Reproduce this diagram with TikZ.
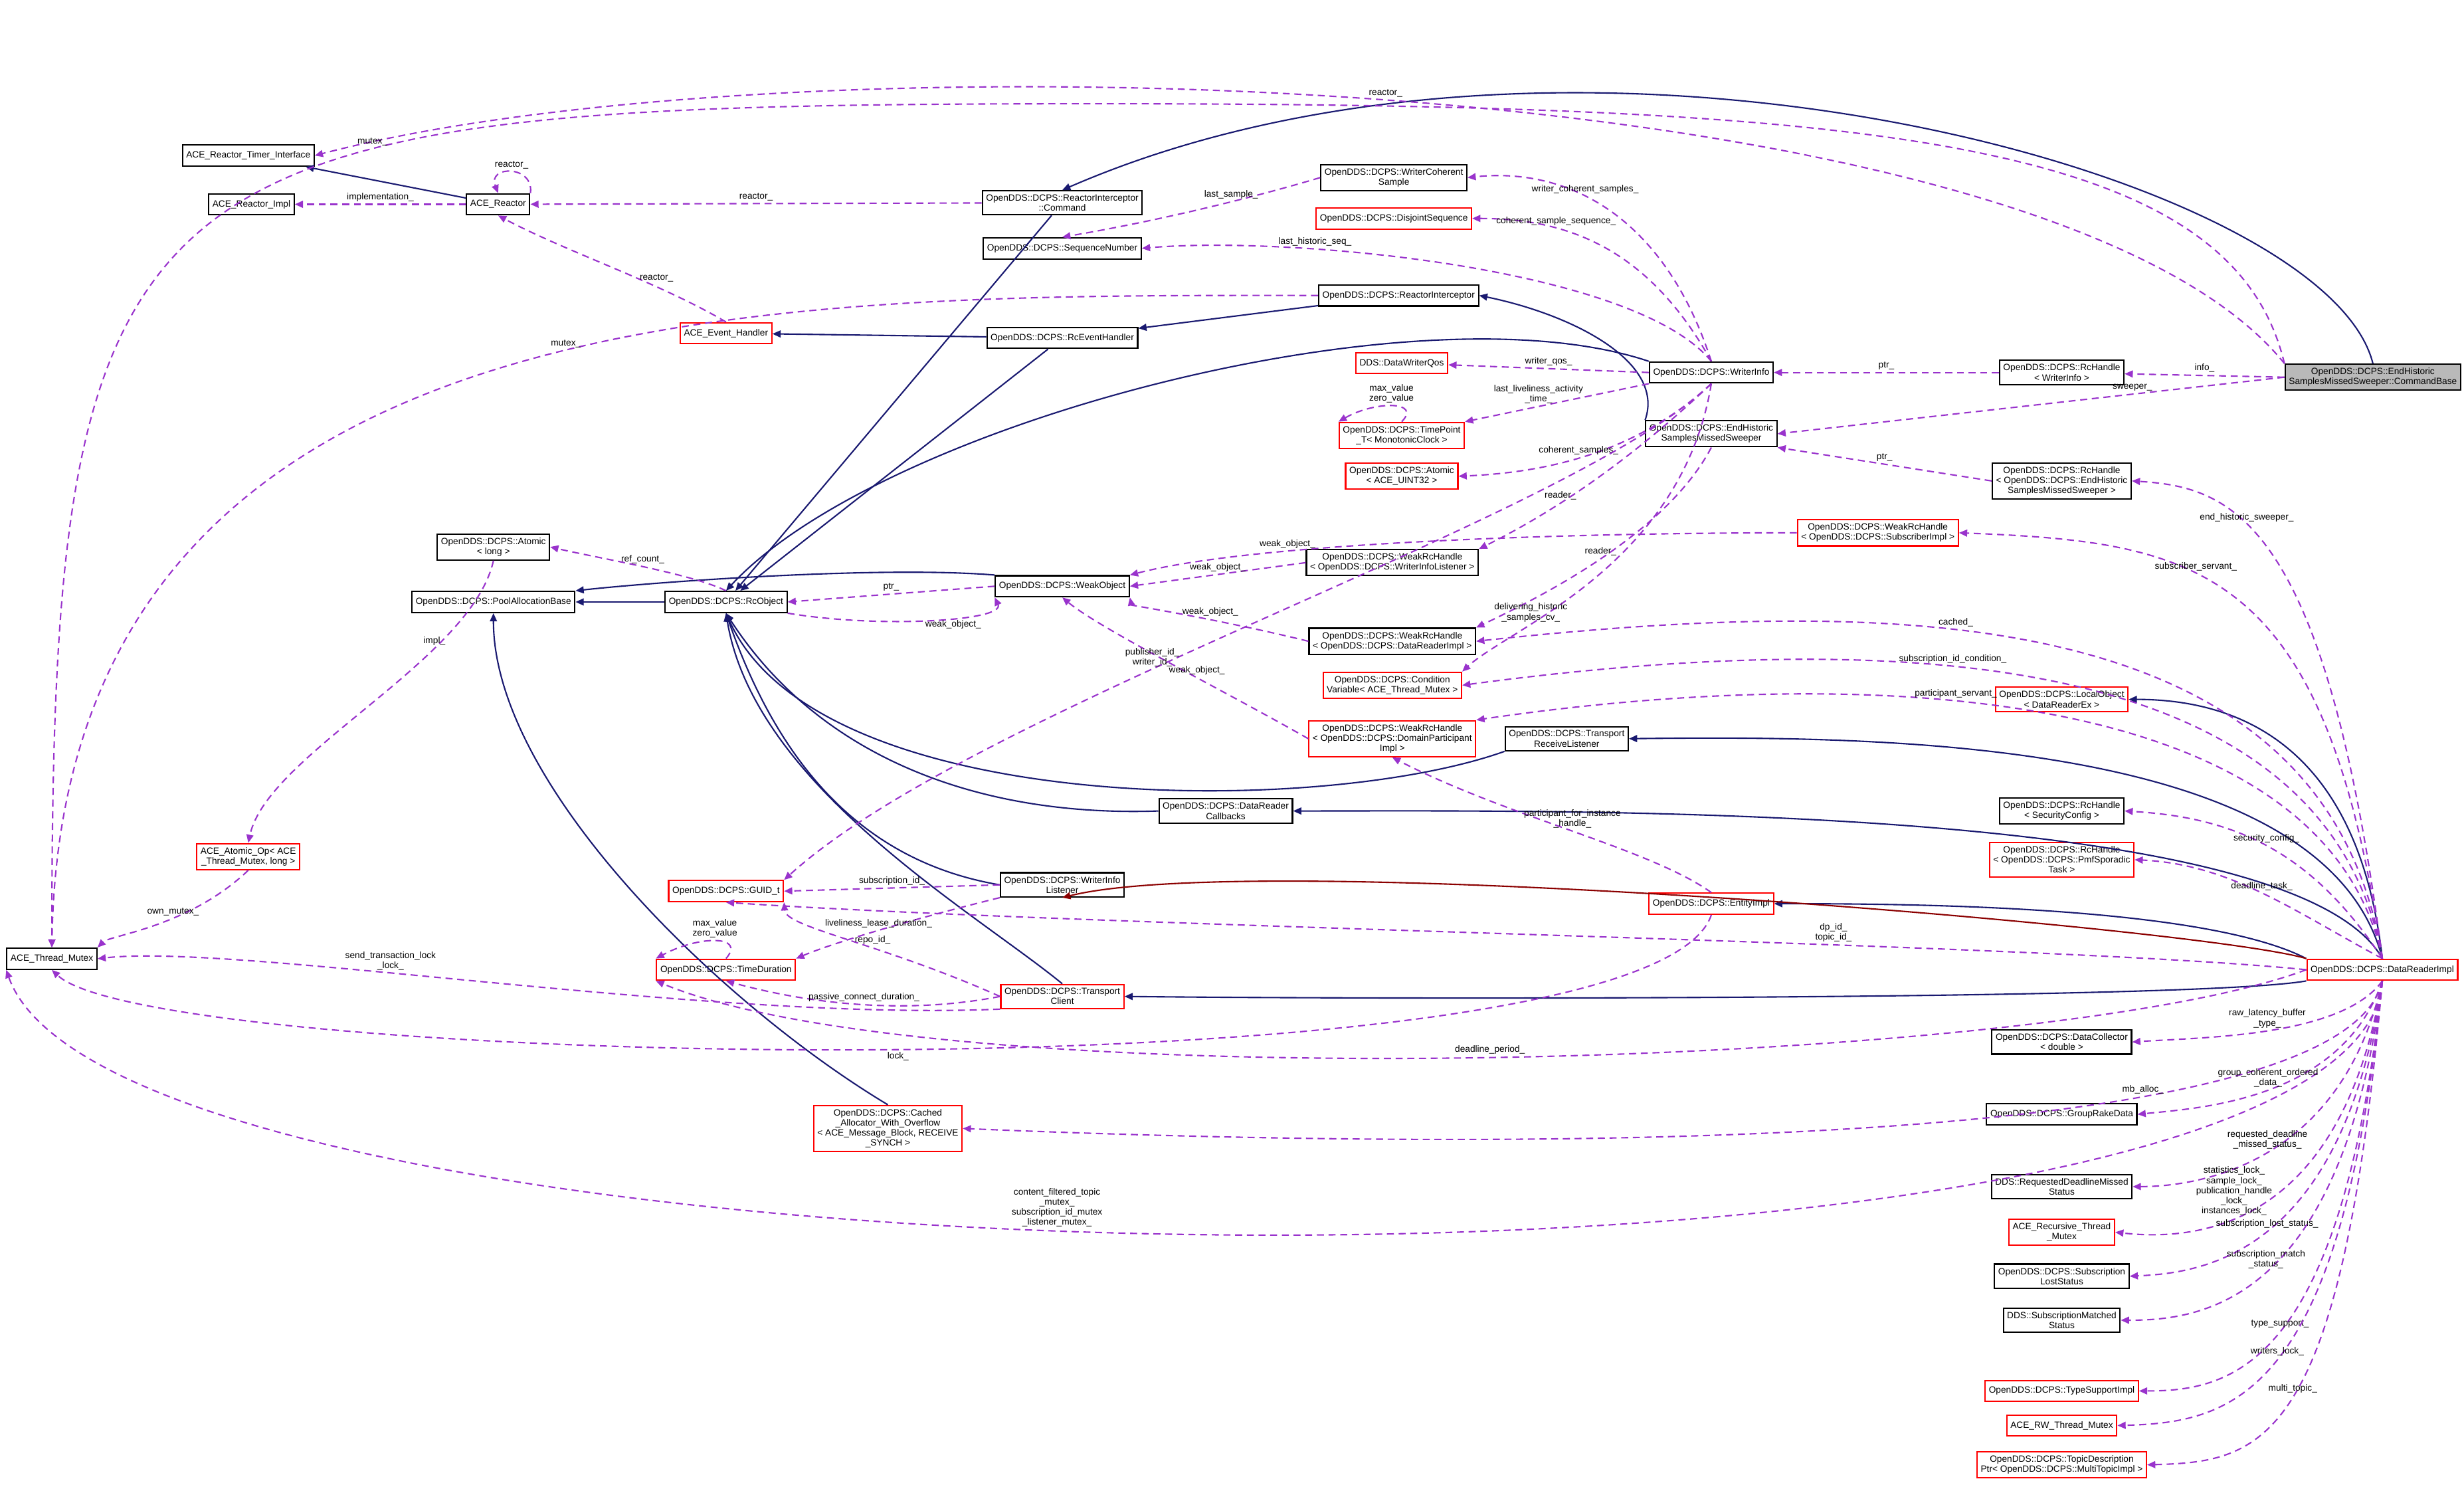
\documentclass[tikz,border=0pt]{standalone}
\usepackage{fontspec}
\setmainfont{Liberation Sans}
\usetikzlibrary{arrows.meta,positioning}
\definecolor{inh}{RGB}{25,25,112}
\definecolor{priv}{RGB}{139,0,0}
\definecolor{use}{RGB}{153,51,204}
\begin{document}
\begin{tikzpicture}[x=0.02365cm, y=-0.02365cm,
    cls/.style={draw, semithick, fill=white, align=center, font=\fontsize{3.9}{4.3}\selectfont, inner sep=1.6pt, minimum height=9pt},
    red/.style={cls, draw=red},
    main/.style={cls, fill=gray!55},
    base/.style={-{Triangle[length=3.5pt,width=3pt]}, inh, semithick},
    prv/.style={-{Triangle[length=3.5pt,width=3pt]}, priv, semithick},
    usg/.style={-{Triangle[length=3.5pt,width=3pt]}, use, densely dashed, semithick},
    lbl/.style={font=\fontsize{3.9}{4.3}\selectfont, align=center, text=black, inner sep=1pt},
  ]
  \useasboundingbox (0,0) rectangle (1568,946);

  % Nodes
  \node[main] (cmd) at (1510,240) {OpenDDS::DCPS::EndHistoric\\SamplesMissedSweeper::CommandBase};
  \node[cls] (timer) at (158,99) {ACE\_Reactor\_Timer\_Interface};
  \node[cls] (rimpl) at (160,130) {ACE\_Reactor\_Impl};
  \node[cls] (reactor) at (317,130) {ACE\_Reactor};
  \node[cls] (ricmd) at (676,129) {OpenDDS::DCPS::ReactorInterceptor\\::Command};
  \node[cls] (wcs) at (887,113) {OpenDDS::DCPS::WriterCoherent\\Sample};
  \node[red] (disj) at (887,139) {OpenDDS::DCPS::DisjointSequence};
  \node[cls] (seqnum) at (676,158) {OpenDDS::DCPS::SequenceNumber};
  \node[cls] (rint) at (890,188) {OpenDDS::DCPS::ReactorInterceptor};
  \node[red] (evh) at (462,212) {ACE\_Event\_Handler};
  \node[cls] (rceh) at (676,215) {OpenDDS::DCPS::RcEventHandler};
  \node[cls] (winfo) at (1089,237) {OpenDDS::DCPS::WriterInfo};
  \node[cls] (hwinfo) at (1312,237) {OpenDDS::DCPS::RcHandle\\< WriterInfo >};
  \node[red] (dwqos) at (892,231) {DDS::DataWriterQos};
  \node[red] (tpoint) at (892,277) {OpenDDS::DCPS::TimePoint\\\_T< MonotonicClock >};
  \node[red] (atom32) at (892,303) {OpenDDS::DCPS::Atomic\\< ACE\_UINT32 >};
  \node[cls] (sweep) at (1089,276) {OpenDDS::DCPS::EndHistoric\\SamplesMissedSweeper};
  \node[cls] (hsweep) at (1312,306) {OpenDDS::DCPS::RcHandle\\< OpenDDS::DCPS::EndHistoric\\SamplesMissedSweeper >};
  \node[cls] (atoml) at (314,348) {OpenDDS::DCPS::Atomic\\< long >};
  \node[cls] (pool) at (314,383) {OpenDDS::DCPS::PoolAllocationBase};
  \node[cls] (rcobj) at (462,383) {OpenDDS::DCPS::RcObject};
  \node[cls] (weak) at (676,373) {OpenDDS::DCPS::WeakObject};
  \node[cls] (wwil) at (886,358) {OpenDDS::DCPS::WeakRcHandle\\< OpenDDS::DCPS::WriterInfoListener >};
  \node[red] (wsub) at (1195,339) {OpenDDS::DCPS::WeakRcHandle\\< OpenDDS::DCPS::SubscriberImpl >};
  \node[cls] (wdri) at (886,408) {OpenDDS::DCPS::WeakRcHandle\\< OpenDDS::DCPS::DataReaderImpl >};
  \node[red] (cvar) at (886,436) {OpenDDS::DCPS::Condition\\Variable< ACE\_Thread\_Mutex >};
  \node[red] (wdp) at (886,470) {OpenDDS::DCPS::WeakRcHandle\\< OpenDDS::DCPS::DomainParticipant\\Impl >};
  \node[red] (local) at (1312,445) {OpenDDS::DCPS::LocalObject\\< DataReaderEx >};
  \node[cls] (trl) at (997,470) {OpenDDS::DCPS::Transport\\ReceiveListener};
  \node[cls] (drcb) at (780,516) {OpenDDS::DCPS::DataReader\\Callbacks};
  \node[cls] (hsec) at (1312,516) {OpenDDS::DCPS::RcHandle\\< SecurityConfig >};
  \node[red] (hpmf) at (1312,547) {OpenDDS::DCPS::RcHandle\\< OpenDDS::DCPS::PmfSporadic\\Task >};
  \node[red] (aop) at (158,545) {ACE\_Atomic\_Op< ACE\\\_Thread\_Mutex, long >};
  \node[red] (guid) at (462,567) {OpenDDS::DCPS::GUID\_t};
  \node[cls] (wil) at (676,563) {OpenDDS::DCPS::WriterInfo\\Listener};
  \node[red] (ent) at (1089,575) {OpenDDS::DCPS::EntityImpl};
  \node[cls] (mtx) at (33,610) {ACE\_Thread\_Mutex};
  \node[red] (tdur) at (462,617) {OpenDDS::DCPS::TimeDuration};
  \node[red] (tcl) at (676,634) {OpenDDS::DCPS::Transport\\Client};
  \node[red] (dri) at (1516,617) {OpenDDS::DCPS::DataReaderImpl};
  \node[cls] (dcol) at (1312,663) {OpenDDS::DCPS::DataCollector\\< double >};
  \node[red] (cache) at (565,718) {OpenDDS::DCPS::Cached\\\_Allocator\_With\_Overflow\\< ACE\_Message\_Block, RECEIVE\\\_SYNCH >};
  \node[cls] (rake) at (1312,709) {OpenDDS::DCPS::GroupRakeData};
  \node[cls] (rdm) at (1312,755) {DDS::RequestedDeadlineMissed\\Status};
  \node[red] (rec) at (1312,784) {ACE\_Recursive\_Thread\\\_Mutex};
  \node[cls] (slost) at (1312,812) {OpenDDS::DCPS::Subscription\\LostStatus};
  \node[cls] (smatch) at (1312,840) {DDS::SubscriptionMatched\\Status};
  \node[red] (tsi) at (1312,885) {OpenDDS::DCPS::TypeSupportImpl};
  \node[red] (rw) at (1312,907) {ACE\_RW\_Thread\_Mutex};
  \node[red] (tdp) at (1312,932) {OpenDDS::DCPS::TopicDescription\\Ptr< OpenDDS::DCPS::MultiTopicImpl >};

  % Inheritance
  \draw[base] (reactor) -- (timer);
  \draw[base] (cmd.north) .. controls (1480,110) and (1000,-20) .. (ricmd.north);
  \draw[base] (ricmd) -- (rcobj);
  \draw[base] (sweep.north west) .. controls (1060,230) and (1000,200) .. (rint.east);
  \draw[base] (rint) -- (rceh);
  \draw[base] (rceh) -- (evh);
  \draw[base] (rceh) -- (rcobj);
  \draw[base] (winfo.north west) .. controls (900,180) and (560,270) .. (rcobj.north);
  \draw[base] (rcobj) -- (pool);
  \draw[base] (weak.north west) .. controls (560,360) and (420,370) .. (pool.north east);
  \draw[base] (trl.south west) .. controls (840,520) and (520,520) .. (rcobj.south);
  \draw[base] (drcb.west) .. controls (620,520) and (520,480) .. (rcobj.south);
  \draw[base] (wil.west) .. controls (560,550) and (500,500) .. (rcobj.south);
  \draw[base] (tcl.north) .. controls (620,580) and (480,500) .. (rcobj.south);
  \draw[base] (cache.north) .. controls (460,640) and (314,500) .. (pool.south);
  \draw[base] (dri.north) .. controls (1500,470) and (1420,445) .. (local.east);
  \draw[base] (dri.north) .. controls (1480,470) and (1200,468) .. (trl.east);
  \draw[base] (dri.north) .. controls (1460,510) and (1000,516) .. (drcb.east);
  \draw[base] (dri.north west) .. controls (1400,575) and (1200,575) .. (ent.east);
  \draw[base] (dri.south west) .. controls (1400,636) and (900,636) .. (tcl.east);
  \draw[prv] (dri.north west) .. controls (1400,590) and (800,540) .. (wil.south);

  % Usage
  \draw[usg] (cmd.north west) .. controls (1300,40) and (500,20) .. node[lbl, above, pos=0.5]{reactor\_} (timer.east);
  \draw[usg] (cmd.north west) .. controls (1420,90) and (1200,66) .. (700,66) .. controls (80,66) and (33,90) .. node[lbl, above, pos=0.35]{mutex\_} (mtx.north);
  \draw[usg] (reactor) -- node[lbl, above]{implementation\_} (rimpl);
  \draw[usg] (reactor.north east) .. controls (340,105) and (310,105) .. node[lbl, above]{reactor\_} (reactor.north);
  \draw[usg] (ricmd) -- node[lbl, above]{reactor\_} (reactor);
  \draw[usg] (evh.north) .. controls (420,180) and (360,160) .. node[lbl, right, pos=0.4]{reactor\_} (reactor.south);
  \draw[usg] (rint.west) .. controls (500,188) and (40,180) .. node[lbl, above, pos=0.45]{mutex\_} (mtx.north);
  \draw[usg] (winfo.north) .. controls (1060,140) and (1000,106) .. node[lbl, above, pos=0.6]{writer\_coherent\_samples\_} (wcs.east);
  \draw[usg] (winfo.north) .. controls (1050,160) and (1000,139) .. node[lbl, above, pos=0.7]{coherent\_sample\_sequence\_} (disj.east);
  \draw[usg] (wcs.west) .. controls (800,125) and (740,140) .. node[lbl, above, pos=0.4]{last\_sample\_} (seqnum.north);
  \draw[usg] (winfo.north) .. controls (1040,170) and (820,150) .. node[lbl, above, pos=0.7]{last\_historic\_seq\_} (seqnum.east);
  \draw[usg] (hwinfo) -- node[lbl, above]{ptr\_} (winfo);
  \draw[usg] (cmd.west) -- node[lbl, above]{info\_} (hwinfo);
  \draw[usg] (winfo.west) -- node[lbl, above]{writer\_qos\_} (dwqos);
  \draw[usg] (winfo.south west) -- node[lbl, above, pos=0.6]{last\_liveliness\_activity\\\_time\_} (tpoint.north east);
  \draw[usg] (tpoint.north) .. controls (905,255) and (875,255) .. node[lbl, above]{max\_value\\zero\_value} (tpoint.north west);
  \draw[usg] (winfo.south) .. controls (1050,280) and (1000,300) .. node[lbl, above, pos=0.6]{coherent\_samples\_} (atom32.east);
  \draw[usg] (cmd.west) -- node[lbl, above, pos=0.3]{sweeper\_} (sweep.east);
  \draw[usg] (hsweep.west) -- node[lbl, above]{ptr\_} (sweep.south east);
  \draw[usg] (dri.north) .. controls (1480,330) and (1420,310) .. node[lbl, above, pos=0.6]{end\_historic\_sweeper\_} (hsweep.east);
  \draw[usg] (winfo.south) .. controls (1030,300) and (980,330) .. node[lbl, above, pos=0.6]{reader\_} (wwil.north east);
  \draw[usg] (sweep.south) .. controls (1060,340) and (980,380) .. node[lbl, above, pos=0.5]{reader\_} (wdri.north east);
  \draw[usg] (winfo.south) .. controls (1070,360) and (960,400) .. node[lbl, above, pos=0.7]{delivering\_historic\\\_samples\_cv\_} (cvar.north east);
  \draw[usg] (wsub.west) .. controls (1000,339) and (800,345) .. node[lbl, above, pos=0.7]{weak\_object\_} (weak.north east);
  \draw[usg] (wwil.west) -- node[lbl, above]{weak\_object\_} (weak.east);
  \draw[usg] (wdri.west) .. controls (780,395) and (720,385) .. node[lbl, above, pos=0.4]{weak\_object\_} (weak.south east);
  \draw[usg] (wdp.west) .. controls (780,440) and (700,400) .. node[lbl, above, pos=0.4]{weak\_object\_} (weak.south);
  \draw[usg] (rcobj.south east) .. controls (560,400) and (640,395) .. node[lbl, below, pos=0.6]{weak\_object\_} (weak.south west);
  \draw[usg] (weak.west) -- node[lbl, above]{ptr\_} (rcobj.east);
  \draw[usg] (rcobj.north) .. controls (440,365) and (380,355) .. node[lbl, above, pos=0.5]{ref\_count\_} (atoml.east);
  \draw[usg] (atoml.south) .. controls (300,420) and (170,480) .. node[lbl, above, pos=0.3]{impl\_} (aop.north);
  \draw[usg] (aop.south) .. controls (120,590) and (70,595) .. node[lbl, above, pos=0.4]{own\_mutex\_} (mtx.north east);
  \draw[usg] (dri.north) .. controls (1480,360) and (1400,345) .. node[lbl, above, pos=0.6]{subscriber\_servant\_} (wsub.east);
  \draw[usg] (dri.north) .. controls (1480,380) and (1200,380) .. node[lbl, above, pos=0.6]{cached\_} (wdri.east);
  \draw[usg] (dri.north) .. controls (1480,410) and (1200,400) .. node[lbl, above, pos=0.6]{subscription\_id\_condition\_} (cvar.east);
  \draw[usg] (dri.north) .. controls (1480,440) and (1200,420) .. node[lbl, above, pos=0.6]{participant\_servant\_} (wdp.north east);
  \draw[usg] (ent.north) .. controls (1050,540) and (960,520) .. node[lbl, above, pos=0.5]{participant\_for\_instance\\\_handle\_} (wdp.south);
  \draw[usg] (dri.north) .. controls (1470,540) and (1420,520) .. node[lbl, above, pos=0.5]{security\_config\_} (hsec.east);
  \draw[usg] (dri.north) .. controls (1460,580) and (1420,550) .. node[lbl, above, pos=0.5]{deadline\_task\_} (hpmf.east);
  \draw[usg] (winfo.south) .. controls (1000,330) and (620,450) .. node[lbl, above, pos=0.6]{publisher\_id\_\\writer\_id\_} (guid.north east);
  \draw[usg] (wil.west) -- node[lbl, above]{subscription\_id\_} (guid.east);
  \draw[usg] (dri.west) .. controls (1300,600) and (700,590) .. node[lbl, above, pos=0.35]{dp\_id\_\\topic\_id\_} (guid.south);
  \draw[usg] (tcl.west) .. controls (560,600) and (500,590) .. node[lbl, above, pos=0.4]{repo\_id\_} (guid.south east);
  \draw[usg] (wil.south west) .. controls (580,585) and (530,600) .. node[lbl, above, pos=0.5]{liveliness\_lease\_duration\_} (tdur.north east);
  \draw[usg] (tdur.north) .. controls (475,595) and (445,595) .. node[lbl, above]{max\_value\\zero\_value} (tdur.north west);
  \draw[usg] (tcl.west) .. controls (580,645) and (520,640) .. node[lbl, above, pos=0.5]{passive\_connect\_duration\_} (tdur.south);
  \draw[usg] (dri.west) .. controls (1300,680) and (600,700) .. node[lbl, above, pos=0.5]{deadline\_period\_} (tdur.south west);
  \draw[usg] (tcl.south west) .. controls (450,650) and (150,600) .. node[lbl, above, pos=0.6]{send\_transaction\_lock\\\_lock\_} (mtx.east);
  \draw[usg] (ent.south) .. controls (1050,700) and (100,680) .. node[lbl, below, pos=0.5]{lock\_} (mtx.south);
  \draw[usg] (dri.south) .. controls (1500,850) and (80,830) .. node[lbl, above, pos=0.55]{content\_filtered\_topic\\\_mutex\_\\subscription\_id\_mutex\\\_listener\_mutex\_} (mtx.south west);
  \draw[usg] (dri.south) .. controls (1490,660) and (1400,660) .. node[lbl, above, pos=0.5]{raw\_latency\_buffer\\\_type\_} (dcol.east);
  \draw[usg] (dri.south) .. controls (1490,740) and (900,730) .. node[lbl, above, pos=0.3]{mb\_alloc\_} (cache.east);
  \draw[usg] (dri.south) .. controls (1490,700) and (1400,705) .. node[lbl, above, pos=0.5]{group\_coherent\_ordered\\\_data\_} (rake.east);
  \draw[usg] (dri.south) .. controls (1490,740) and (1400,755) .. node[lbl, above, pos=0.5]{requested\_deadline\\\_missed\_status\_} (rdm.east);
  \draw[usg] (dri.south) .. controls (1490,780) and (1400,790) .. node[lbl, above, pos=0.6]{statistics\_lock\_\\sample\_lock\_\\publication\_handle\\\_lock\_\\instances\_lock\_} (rec.east);
  \draw[usg] (dri.south) .. controls (1490,800) and (1400,810) .. node[lbl, above, pos=0.5]{subscription\_lost\_status\_} (slost.east);
  \draw[usg] (dri.south) .. controls (1490,830) and (1400,840) .. node[lbl, above, pos=0.5]{subscription\_match\\\_status\_} (smatch.east);
  \draw[usg] (dri.south) .. controls (1490,870) and (1420,885) .. node[lbl, above, pos=0.5]{type\_support\_} (tsi.east);
  \draw[usg] (dri.south) .. controls (1490,890) and (1420,905) .. node[lbl, above, pos=0.5]{writers\_lock\_} (rw.east);
  \draw[usg] (dri.south) .. controls (1490,920) and (1440,930) .. node[lbl, above, pos=0.5]{multi\_topic\_} (tdp.east);

\end{tikzpicture}
\end{document}
